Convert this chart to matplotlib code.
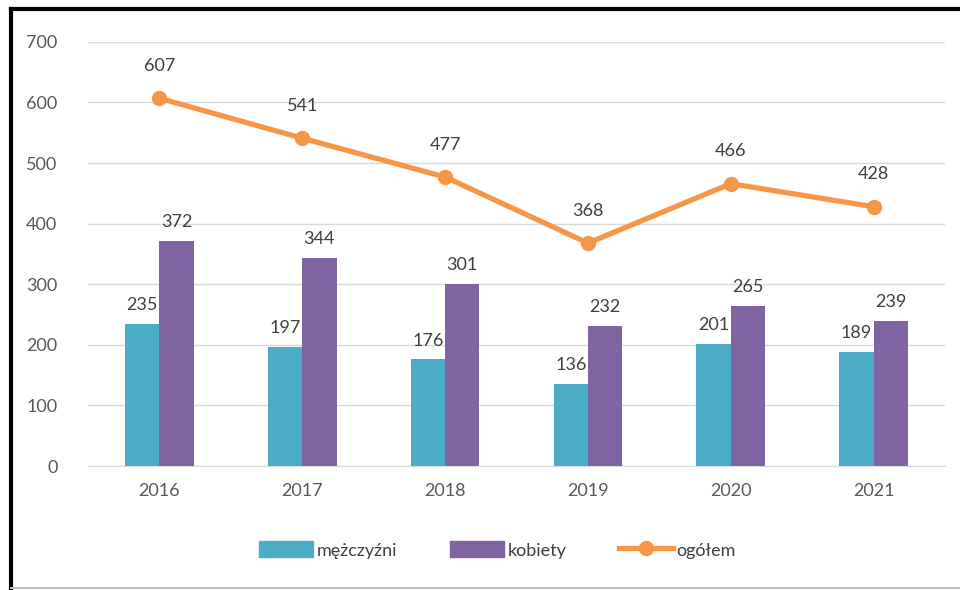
import numpy as np
import matplotlib.pyplot as plt
from matplotlib.lines import Line2D
from matplotlib.patches import Patch

years = ['2016', '2017', '2018', '2019', '2020', '2021']
men = [235, 197, 176, 136, 201, 189]
women = [372, 344, 301, 232, 265, 239]
total = [607, 541, 477, 368, 466, 428]

c_men = '#4BACC6'
c_women = '#8064A2'
c_total = '#F79646'
txt = '#404040'

plt.rcParams['font.family'] = ['Lato', 'DejaVu Sans']

fig = plt.figure(figsize=(9.6, 5.9), dpi=100)
ax = fig.add_axes([0.0917, 0.21, 0.8927, 0.719])

x = np.arange(len(years))
w = 0.24
ax.bar(x - w / 2, men, width=w, color=c_men, zorder=2)
ax.bar(x + w / 2, women, width=w, color=c_women, zorder=2)
ax.plot(x, total, color=c_total, lw=3.8, marker='o', ms=10, zorder=3)

# value labels
fs = 13
for i in range(len(years)):
	ax.text(x[i] - w / 2, men[i] + 18, str(men[i]), ha='center', va='bottom', fontsize=fs, color=txt, zorder=4)
	ax.text(x[i] + w / 2, women[i] + 18, str(women[i]), ha='center', va='bottom', fontsize=fs, color=txt, zorder=4)
	ax.text(x[i], total[i] + 40, str(total[i]), ha='center', va='bottom', fontsize=fs, color=txt, zorder=4)

ax.set_xlim(-0.5, 5.5)
ax.set_ylim(0, 700)
ax.set_yticks(range(0, 701, 100))
ax.set_xticks(x)
ax.set_xticklabels(years)
ax.tick_params(length=0, labelsize=fs, labelcolor='#595959')
ax.tick_params(axis='y', pad=22)
ax.tick_params(axis='x', pad=12)
ax.grid(axis='y', color='#D9D9D9', lw=1, zorder=0)
ax.set_axisbelow(True)
for s in ['top', 'right', 'left']:
	ax.spines[s].set_visible(False)
ax.spines['bottom'].set_color('#D9D9D9')

handles = [Patch(color=c_men), Patch(color=c_women),
	Line2D([0], [0], color=c_total, lw=3.8, marker='o', ms=10)]
fig.legend(handles, ['mężczyźni', 'kobiety', 'ogółem'], loc='center', bbox_to_anchor=(0.518, 0.068),
	ncol=3, frameon=False, fontsize=fs, handlelength=3.0, handleheight=1.0, handletextpad=0.2,
	columnspacing=2.9, labelcolor=txt)

# frame around the chart
fig.add_artist(Line2D([0.011, 0.011], [0.0, 0.985], color='black', lw=3, transform=fig.transFigure))
fig.add_artist(Line2D([0.011, 1.0], [0.985, 0.985], color='black', lw=3, transform=fig.transFigure))
fig.add_artist(Line2D([0.011, 1.0], [0.004, 0.004], color='#BFBFBF', lw=1.5, transform=fig.transFigure))

fig.savefig('out.png', dpi=100)
